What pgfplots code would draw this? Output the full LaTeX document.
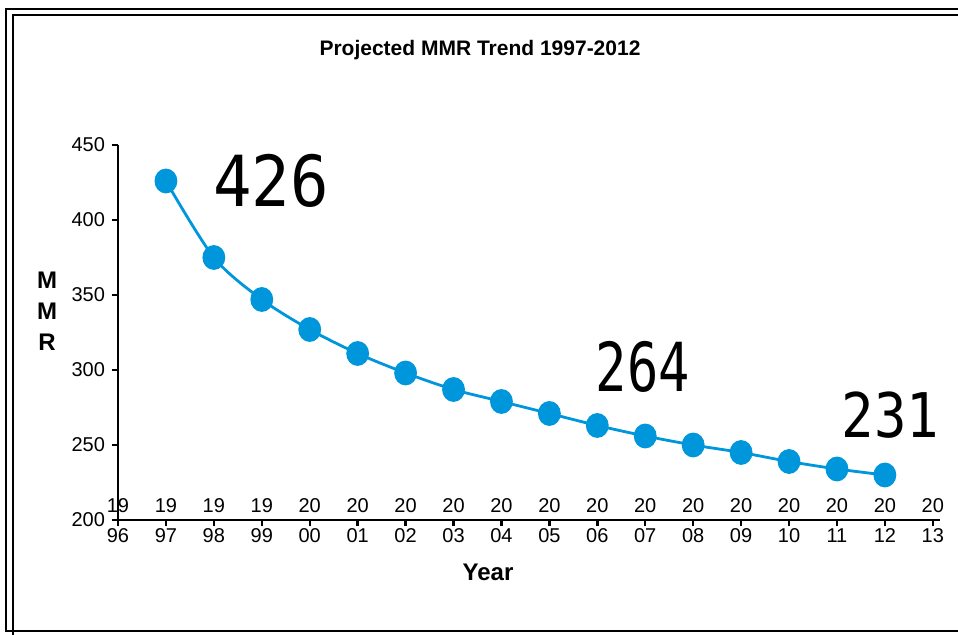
\documentclass[border=0pt]{standalone}
\usepackage{pgfplots}
\pgfplotsset{compat=1.18}
\usepackage{fontspec}
\setmainfont{Liberation Sans}
\newfontfamily\dotfont{DejaVu Sans Mono}
\definecolor{mmrblue}{RGB}{0,150,220}
\begin{document}
\begin{tikzpicture}
\useasboundingbox (0,0) rectangle (479pt,317.5pt);
\draw[line width=1.1pt] (479pt,313pt) -- (3pt,313pt) -- (3pt,2pt) -- (479pt,2pt);
\draw[line width=1.1pt] (479pt,310pt) -- (6.5pt,310pt) -- (6.5pt,0pt);
\node[font=\bfseries\fontsize{10.5}{12}\selectfont] at (240pt,292.5pt) {Projected MMR Trend 1997-2012};
\node[font=\bfseries\fontsize{12}{14}\selectfont] at (244pt,31.5pt) {Year};
\node[font=\bfseries\fontsize{12}{15.5}\selectfont, align=center] at (23.5pt,162pt) {M\\M\\R};
\begin{axis}[
  at={(59pt,57.5pt)}, anchor=south west,
  scale only axis, width=411pt, height=187.5pt,
  xmin=0, xmax=17.15, ymin=200, ymax=450,
  axis lines=left, axis line style={-, line width=1.4pt, black},
  clip=false,
  xtick={0,...,17}, ytick={200,250,...,450},
  xticklabels={{19\\96},{19\\97},{19\\98},{19\\99},{20\\00},{20\\01},{20\\02},{20\\03},{20\\04},{20\\05},{20\\06},{20\\07},{20\\08},{20\\09},{20\\10},{20\\11},{20\\12},{20\\13}},
  tick align=outside, major tick length=3pt, tick style={line width=1.2pt, black},
  xticklabel style={anchor=center, align=center, yshift=2.8pt, font=\fontsize{10}{15}\selectfont},
  yticklabel style={font=\fontsize{10}{12}\selectfont},
  /pgf/number format/assume math mode=true,
]
\addplot[mmrblue, line width=1.4pt, smooth, mark=*, mark size=5pt,
  mark options={solid, fill=mmrblue, draw=mmrblue, yscale=1.1}] coordinates {
  (1,426) (2,375) (3,347) (4,327) (5,311) (6,298) (7,287) (8,279)
  (9,271) (10,263) (11,256) (12,250) (13,245) (14,239) (15,234) (16,230)
};
\node[font=\dotfont\fontsize{32}{32}\selectfont] at (axis cs:3.19,426) {\scalebox{1}[1.1]{426}};
\node[font=\dotfont\fontsize{26}{26}\selectfont] at (axis cs:10.95,302) {\scalebox{1}[1.3]{264}};
\node[font=\dotfont\fontsize{27}{27}\selectfont] at (axis cs:16.12,270) {\scalebox{1}[1.14]{231}};
\end{axis}
\end{tikzpicture}
\end{document}
